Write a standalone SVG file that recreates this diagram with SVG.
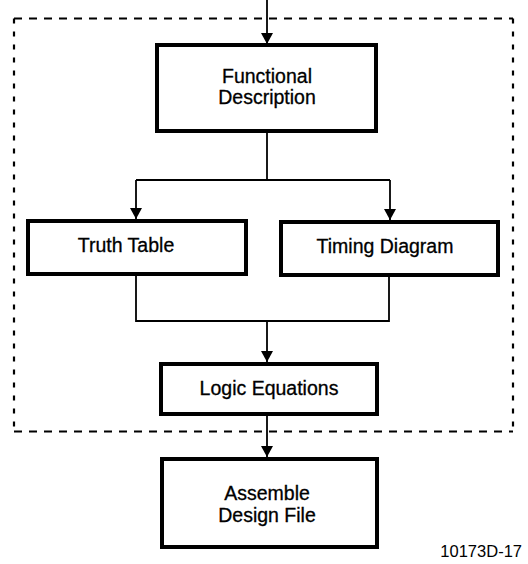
<svg xmlns="http://www.w3.org/2000/svg" width="528" height="564" viewBox="0 0 528 564">
<defs>
<style>
.box{fill:#fff;stroke:#000;stroke-width:4}
.ln{fill:none;stroke:#000;stroke-width:1.8}
.t{font-family:"Liberation Sans",Arial,sans-serif;font-size:19.5px;fill:#000;stroke:#000;stroke-width:0.3;text-anchor:middle}
.dh{stroke:#000;stroke-width:2.2;stroke-dasharray:8 7;fill:none}
.dv{stroke:#000;stroke-width:2.2;stroke-dasharray:5 8;fill:none}
</style>
<marker id="ah" viewBox="0 0 11 14" refX="11" refY="7" markerWidth="11" markerHeight="14" markerUnits="userSpaceOnUse" orient="auto-start-reverse">
<path d="M0,1 L11,7 L0,13 Z" fill="#000"/>
</marker>
</defs>
<rect width="528" height="564" fill="#fff"/>
<g id="boundary">
<line class="dh" x1="14" y1="18.5" x2="513" y2="18.5"/>
<line class="dh" x1="14" y1="431.5" x2="513" y2="431.5"/>
<line class="dv" x1="14" y1="18.5" x2="14" y2="431.5"/>
<line class="dv" x1="513" y1="18.5" x2="513" y2="431.5"/>
</g>
<g id="connectors">
<line class="ln" x1="267" y1="0" x2="267" y2="44" marker-end="url(#ah)"/>
<polyline class="ln" points="267,131 267,180"/>
<polyline class="ln" points="136,180 390,180"/>
<line class="ln" x1="136" y1="180" x2="136" y2="219" marker-end="url(#ah)"/>
<line class="ln" x1="390" y1="180" x2="390" y2="220" marker-end="url(#ah)"/>
<polyline class="ln" points="136,274 136,321 389,321 389,275"/>
<line class="ln" x1="267" y1="321" x2="267" y2="362" marker-end="url(#ah)"/>
<line class="ln" x1="267" y1="415" x2="267" y2="457" marker-end="url(#ah)"/>
</g>
<g id="functional-description">
<rect class="box" x="157" y="45" width="219" height="86"/>
<text class="t" x="267" y="83">Functional</text>
<text class="t" x="267" y="104">Description</text>
</g>
<g id="truth-table">
<rect class="box" x="28" y="221" width="218" height="53"/>
<text class="t" x="126" y="252">Truth Table</text>
</g>
<g id="timing-diagram">
<rect class="box" x="281" y="222" width="217" height="53"/>
<text class="t" x="385" y="253">Timing Diagram</text>
</g>
<g id="logic-equations">
<rect class="box" x="161" y="364" width="216" height="50"/>
<text class="t" x="269" y="395">Logic Equations</text>
</g>
<g id="assemble-design-file">
<rect class="box" x="162" y="459" width="215" height="88"/>
<text class="t" x="267" y="500">Assemble</text>
<text class="t" x="267" y="522">Design File</text>
</g>
<text x="522" y="557" style="font-family:'Liberation Sans',Arial,sans-serif;font-size:16.5px;text-anchor:end">10173D-17</text>
</svg>
